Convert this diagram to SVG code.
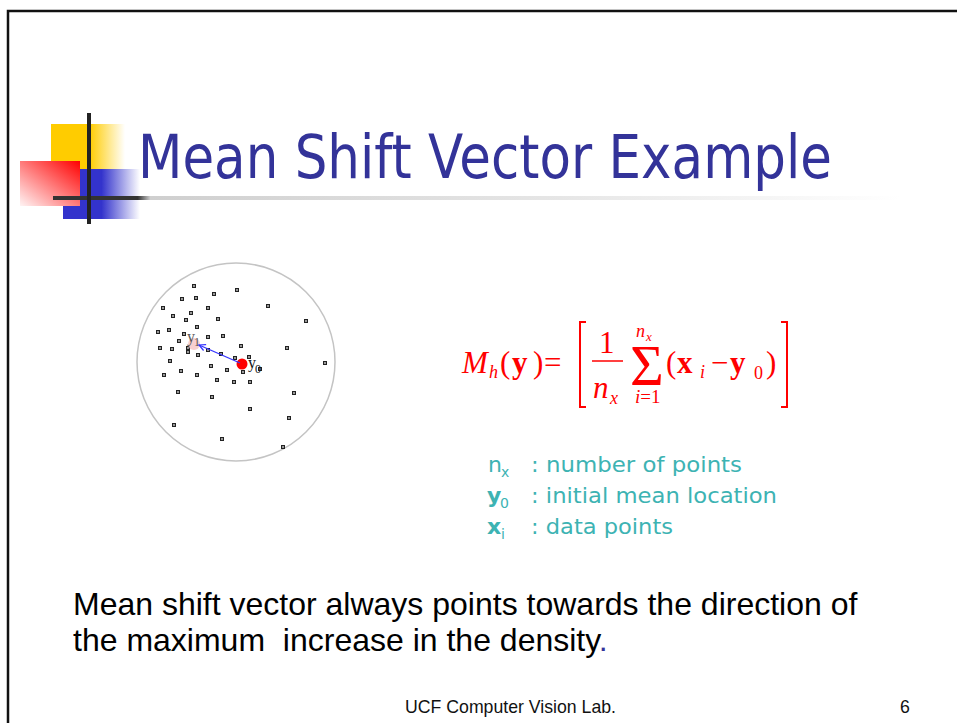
<svg xmlns="http://www.w3.org/2000/svg" width="957" height="723" viewBox="0 0 957 723">
<defs>
<linearGradient id="gY" x1="0" y1="0" x2="1" y2="0"><stop offset="0" stop-color="#ffcc00"/><stop offset="0.52" stop-color="#ffcc00"/><stop offset="1" stop-color="#ffffff"/></linearGradient>
<linearGradient id="gB" x1="0" y1="0" x2="1" y2="0"><stop offset="0" stop-color="#3333cc"/><stop offset="0.5" stop-color="#3333cc"/><stop offset="1" stop-color="#ffffff"/></linearGradient>
<linearGradient id="gR" x1="1" y1="0" x2="0" y2="1"><stop offset="0" stop-color="#ff0000"/><stop offset="1" stop-color="#fff4f4"/></linearGradient>
<linearGradient id="gL" gradientUnits="userSpaceOnUse" x1="53" y1="0" x2="900" y2="0"><stop offset="0" stop-color="#333333"/><stop offset="0.1" stop-color="#333333"/><stop offset="0.115" stop-color="#cfcfcf"/><stop offset="0.6" stop-color="#e6e6e6"/><stop offset="1" stop-color="#ffffff"/></linearGradient>
<marker id="ah" viewBox="0 0 10 10" refX="9" refY="5" markerWidth="8" markerHeight="8" orient="auto" markerUnits="userSpaceOnUse"><path d="M1,1 L9,5 L1,9" fill="none" stroke="#3333ff" stroke-width="1.5"/></marker>
</defs>
<style>
.pt{fill:#999999;stroke:#222;stroke-width:1}
.fm{font-family:"Liberation Serif","Times New Roman",serif;fill:#ff0000}
.it{font-style:italic}
.bd{font-weight:bold}
.lg{font-family:"DejaVu Sans","Noto Sans",sans-serif;fill:#3db3b3}
.ar{font-family:"Liberation Sans",Arial,sans-serif}
</style>
<rect width="957" height="723" fill="#ffffff"/>
<path d="M8,723 V11 H957" fill="none" stroke="#111" stroke-width="2.5"/>

<g id="logo">
<rect x="51" y="124" width="74" height="45" fill="url(#gY)"/>
<rect x="63" y="169" width="77" height="50" fill="url(#gB)"/>
<rect x="20" y="161" width="60" height="45" fill="url(#gR)"/>
<rect x="53" y="196" width="847" height="4" fill="url(#gL)"/>
<rect x="87" y="113" width="4" height="111" fill="#222"/>
</g>

<g id="title">
<text x="138" y="178" font-family="DejaVu Sans,Noto Sans,sans-serif" font-size="61" fill="#333399" textLength="694" lengthAdjust="spacingAndGlyphs">Mean Shift Vector Example</text>
</g>

<g id="scatter">
<circle cx="236" cy="362" r="99" fill="none" stroke="#c4c4c4" stroke-width="1.5"/>
<g>
<rect class="pt" x="192.5" y="284.5" width="3" height="3"/>
<rect class="pt" x="235.5" y="288.5" width="3" height="3"/>
<rect class="pt" x="180.5" y="297.5" width="3" height="3"/>
<rect class="pt" x="194.5" y="296.5" width="3" height="3"/>
<rect class="pt" x="212.5" y="292.5" width="3" height="3"/>
<rect class="pt" x="161.5" y="306.5" width="3" height="3"/>
<rect class="pt" x="206.5" y="306.5" width="3" height="3"/>
<rect class="pt" x="189.5" y="311.5" width="3" height="3"/>
<rect class="pt" x="171.5" y="314.5" width="3" height="3"/>
<rect class="pt" x="216.5" y="317.5" width="3" height="3"/>
<rect class="pt" x="184.5" y="318.5" width="3" height="3"/>
<rect class="pt" x="266.5" y="304.5" width="3" height="3"/>
<rect class="pt" x="304.5" y="319.5" width="3" height="3"/>
<rect class="pt" x="195.5" y="325.5" width="3" height="3"/>
<rect class="pt" x="156.5" y="330.5" width="3" height="3"/>
<rect class="pt" x="167.5" y="328.5" width="3" height="3"/>
<rect class="pt" x="182.5" y="332.5" width="3" height="3"/>
<rect class="pt" x="206.5" y="335.5" width="3" height="3"/>
<rect class="pt" x="221.5" y="334.5" width="3" height="3"/>
<rect class="pt" x="177.5" y="339.5" width="3" height="3"/>
<rect class="pt" x="158.5" y="346.5" width="3" height="3"/>
<rect class="pt" x="170.5" y="347.5" width="3" height="3"/>
<rect class="pt" x="186.5" y="346.5" width="3" height="3"/>
<rect class="pt" x="186.5" y="350.5" width="3" height="3"/>
<rect class="pt" x="196.5" y="353.5" width="3" height="3"/>
<rect class="pt" x="206.5" y="348.5" width="3" height="3"/>
<rect class="pt" x="219.5" y="352.5" width="3" height="3"/>
<rect class="pt" x="239.5" y="344.5" width="3" height="3"/>
<rect class="pt" x="285.5" y="346.5" width="3" height="3"/>
<rect class="pt" x="168.5" y="359.5" width="3" height="3"/>
<rect class="pt" x="233.5" y="356.5" width="3" height="3"/>
<rect class="pt" x="247.5" y="355.5" width="3" height="3"/>
<rect class="pt" x="209.5" y="364.5" width="3" height="3"/>
<rect class="pt" x="179.5" y="369.5" width="3" height="3"/>
<rect class="pt" x="225.5" y="368.5" width="3" height="3"/>
<rect class="pt" x="241.5" y="370.5" width="3" height="3"/>
<rect class="pt" x="258.5" y="367.5" width="3" height="3"/>
<rect class="pt" x="323.5" y="361.5" width="3" height="3"/>
<rect class="pt" x="162.5" y="373.5" width="3" height="3"/>
<rect class="pt" x="195.5" y="373.5" width="3" height="3"/>
<rect class="pt" x="215.5" y="378.5" width="3" height="3"/>
<rect class="pt" x="232.5" y="380.5" width="3" height="3"/>
<rect class="pt" x="248.5" y="380.5" width="3" height="3"/>
<rect class="pt" x="176.5" y="390.5" width="3" height="3"/>
<rect class="pt" x="210.5" y="395.5" width="3" height="3"/>
<rect class="pt" x="292.5" y="391.5" width="3" height="3"/>
<rect class="pt" x="248.5" y="407.5" width="3" height="3"/>
<rect class="pt" x="287.5" y="416.5" width="3" height="3"/>
<rect class="pt" x="172.5" y="423.5" width="3" height="3"/>
<rect class="pt" x="220.5" y="437.5" width="3" height="3"/>
<rect class="pt" x="281.5" y="445.5" width="3" height="3"/>
</g>
</g>

<g id="y1">
<circle cx="194" cy="344" r="6" fill="#f7c4c4" fill-opacity="0.8"/>
<text x="187" y="342" font-family="Liberation Serif,serif" font-size="16" fill="#555">y</text>
<text x="194" y="346" font-family="Liberation Serif,serif" font-size="12" fill="#555">1</text>
</g>

<g id="y0">
<circle cx="242" cy="364" r="5.5" fill="#ff0000"/>
<text x="248" y="368" font-family="Liberation Serif,serif" font-size="16" fill="#111">y</text>
<text x="255" y="373" font-family="Liberation Serif,serif" font-size="12" fill="#111">0</text>
</g>

<g id="connectors">
<line x1="240" y1="363" x2="199" y2="345" stroke="#3333ff" stroke-width="1.3" marker-end="url(#ah)"/>
</g>

<g id="formula" class="fm">
<text x="462" y="373" font-size="31" class="it">M</text>
<text x="489" y="378" font-size="18" class="it">h</text>
<text x="500" y="373" font-size="31">(</text>
<text x="512" y="373" font-size="31" class="bd">y</text>
<text x="533" y="373" font-size="31">)</text>
<text x="544" y="373" font-size="31">=</text>
<path d="M586,322 H580 V407 H586" fill="none" stroke="#ff0000" stroke-width="2"/>
<text x="599" y="353" font-size="31">1</text>
<line x1="592" y1="361" x2="623" y2="361" stroke="#ff0000" stroke-width="1.5"/>
<text x="593" y="398" font-size="31" class="it">n</text>
<text x="610" y="404" font-size="18" class="it">x</text>
<text x="630" y="385" font-size="58">Σ</text>
<text x="636" y="337" font-size="18" class="it">n</text>
<text x="646" y="341" font-size="13" class="it">x</text>
<text x="635" y="403" font-size="19"><tspan class="it">i</tspan>=1</text>
<text x="666" y="373" font-size="31">(</text>
<text x="677" y="373" font-size="31" class="bd">x</text>
<text x="700" y="378" font-size="18" class="it">i</text>
<text x="711" y="373" font-size="31">−</text>
<text x="730" y="373" font-size="31" class="bd">y</text>
<text x="754" y="379" font-size="18">0</text>
<text x="766" y="373" font-size="31">)</text>
<path d="M781,322 H787 V407 H781" fill="none" stroke="#ff0000" stroke-width="2"/>
</g>

<g id="legend" class="lg" font-size="22">
<text x="488" y="472">n</text>
<text x="501" y="477" font-size="14">x</text>
<text x="531" y="472" textLength="211" lengthAdjust="spacingAndGlyphs">: number of points</text>
<text x="487" y="503" font-weight="bold">y</text>
<text x="500" y="508" font-size="14">0</text>
<text x="531" y="503" textLength="246" lengthAdjust="spacingAndGlyphs">: initial mean location</text>
<text x="487" y="534" font-weight="bold">x</text>
<text x="501" y="539" font-size="14">i</text>
<text x="531" y="534" textLength="142" lengthAdjust="spacingAndGlyphs">: data points</text>
</g>

<g id="caption" class="ar" font-size="32" fill="#000">
<text x="73" y="615">Mean shift vector always points towards the direction of</text>
<text x="73" y="651" xml:space="preserve">the maximum  increase in the density<tspan fill="#333399">.</tspan></text>
</g>

<g id="footer" class="ar" font-size="17.7" fill="#111">
<text x="405" y="713">UCF Computer Vision Lab.</text>
<text x="900" y="713">6</text>
</g>
</svg>
